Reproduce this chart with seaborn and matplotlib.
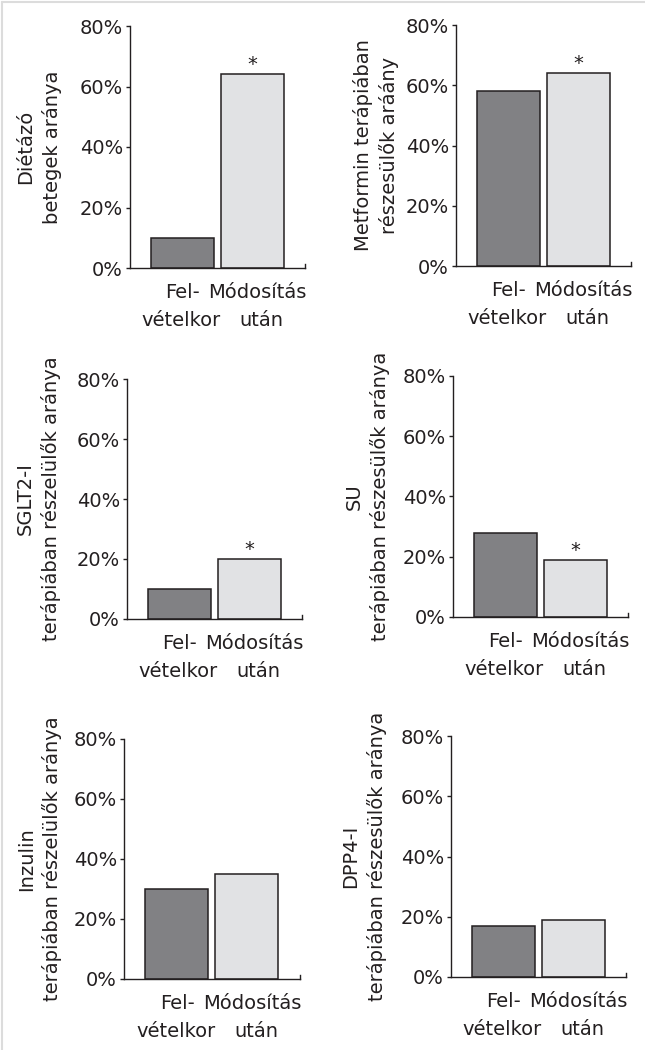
import matplotlib
matplotlib.use("Agg")
import matplotlib.pyplot as plt
import seaborn as sns
import pandas as pd
from matplotlib.lines import Line2D
from matplotlib.ticker import FuncFormatter, FixedLocator

sns.set_theme(style="white")
plt.rcParams['font.family'] = ['DejaVu Sans']

# ---- data ----
categories = ["Felvételkor", "Módosítás után"]
label_line1 = ["Fel-", "Módosítás"]
label_line2 = ["vételkor", "után"]
ylabels = [
    "Diétázó\nbetegek aránya",
    "Metformin terápiában\nrészesülők aráány",
    "SGLT2-I\nterápiában részelülők aránya",
    "SU\nterápiában részesülők aránya",
    "Inzulin\nterápiában részelülők aránya",
    "DPP4-I\nterápiában részesülők aránya",
]
diet_vals = [0.10, 0.64]
metformin_vals = [0.58, 0.64]
sglt2_vals = [0.10, 0.20]
su_vals = [0.28, 0.19]
insulin_vals = [0.30, 0.35]
dpp4_vals = [0.17, 0.19]
significant = [True, True, True, True, False, False]
yticks = [0.0, 0.2, 0.4, 0.6, 0.8]

panel_values = [diet_vals, metformin_vals, sglt2_vals, su_vals, insulin_vals, dpp4_vals]

# ---- styling ----
colors = ["#818184", "#e1e2e4"]
edge = "#231f20"
txt = "#231f20"
W, H = 645, 1050
# axes boxes in pixels: left, right, top, bottom
boxes = [
    (130, 305, 26, 268),
    (456, 631, 25, 266),
    (127, 302, 379, 619),
    (453, 628, 376, 617),
    (124, 300, 739, 979),
    (451, 626, 736, 977),
]
label_x = [39, 376, 38.5, 367, 39.5, 364]
line1_shift = [0.01, 0.08]
line2_shift = [-0.01, 0.14]

fig = plt.figure(figsize=(W / 100, H / 100), dpi=100)
fig.patch.set_facecolor("white")

fs = 14
fw = "normal"
for i, (vals, lab, sig, box, lx) in enumerate(zip(panel_values, ylabels, significant, boxes, label_x)):
    l, r, t, b = box
    ax = fig.add_axes([l / W, 1 - b / H, (r - l) / W, (b - t) / H])
    df = pd.DataFrame({"cat": categories, "val": vals})
    sns.barplot(data=df, x="cat", y="val", hue="cat", palette=colors, legend=False,
                width=0.9, edgecolor=edge, linewidth=1.1, ax=ax, saturation=1)
    ax.set_xlim(-0.743, 1.757)
    ax.set_ylim(0, 0.8)
    ax.set_yticks(yticks)
    ax.yaxis.set_major_formatter(FuncFormatter(lambda v, p: f"{int(round(v * 100))}%"))
    ax.set_xlabel("")
    ax.set_ylabel(lab, fontsize=fs, linespacing=1.4, color=txt, fontweight=fw)
    ax.yaxis.label.set_va("center")
    ax.yaxis.set_label_coords((lx - l) / (r - l), 0.5)
    ax.spines["top"].set_visible(False)
    ax.spines["right"].set_bounds(0, 0.013)
    for s in ["left", "bottom", "right"]:
        ax.spines[s].set_color(edge)
        ax.spines[s].set_linewidth(1.0)
    ax.tick_params(axis="y", left=True, length=3, width=1, color=edge, pad=2,
                   labelsize=fs, labelcolor=txt)
    # two-row category labels
    ax.set_xticks([k + s for k, s in zip([0, 1], line1_shift)])
    ax.set_xticklabels(label_line1, fontsize=fs, color=txt, fontweight=fw)
    ax.xaxis.set_minor_locator(FixedLocator([k + s for k, s in zip([0, 1], line2_shift)]))
    ax.set_xticklabels(label_line2, minor=True, fontsize=fs, color=txt, fontweight=fw)
    ax.tick_params(axis="x", which="major", bottom=False, length=0, pad=11)
    ax.tick_params(axis="x", which="minor", bottom=False, length=0, pad=31)
    ax.set_facecolor("white")
    ax.grid(False)
    if sig:
        ax.annotate("*", xy=(1, vals[1]), xytext=(0, 0), textcoords="offset points",
                    ha="center", va="bottom", fontsize=fs, color=txt)

# thin light-grey frame at top and left
fig.add_artist(Line2D([2 / W, 2 / W], [0, 1 - 2 / H], color="#dcdcdc", lw=1.5, transform=fig.transFigure))
fig.add_artist(Line2D([2 / W, 1], [1 - 2 / H, 1 - 2 / H], color="#dcdcdc", lw=1.5, transform=fig.transFigure))

fig.savefig("out.png", dpi=100)
